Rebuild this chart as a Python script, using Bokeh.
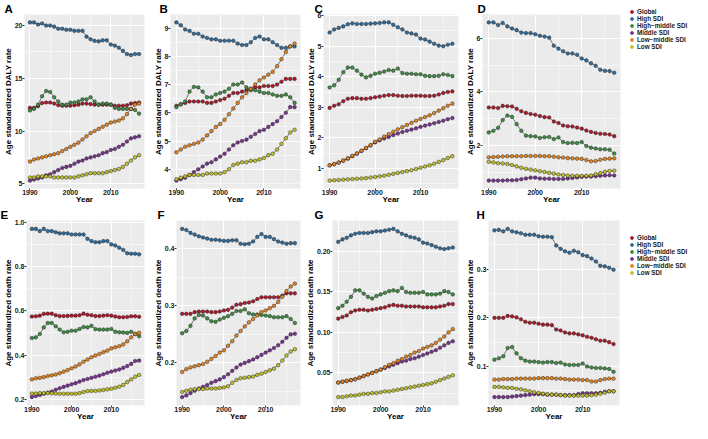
from bokeh.plotting import figure
from bokeh.layouts import row, column
from bokeh.models import Range1d, FixedTicker, Legend, LegendItem
from bokeh.embed import file_html
from bokeh.resources import INLINE

FONT = "Liberation Sans"

years = list(range(1990, 2018))
series_names = ["Global", "High SDI", "High\u2212middle SDI", "Middle SDI", "Low\u2212middle SDI", "Low SDI"]
colors = ["#B2182B", "#2F6D9E", "#3E8E41", "#7B3294", "#E6851E", "#C2C22A"]
x_ticks = [1990, 2000, 2010]
x_tick_labels = ["1990", "2000", "2010"]

a_global = [12.2,12.2,12.35,12.65,12.7,12.7,12.6,12.45,12.4,12.4,12.4,12.45,12.5,12.6,12.6,12.55,12.5,12.5,12.5,12.5,12.5,12.4,12.4,12.4,12.45,12.6,12.65,12.7]
a_high = [20.3,20.3,20.1,20.2,20.0,20.0,19.9,19.7,19.7,19.6,19.6,19.5,19.5,19.5,18.95,18.7,18.55,18.5,18.6,18.6,18.2,18.1,17.9,17.6,17.3,17.2,17.3,17.3]
a_highmid = [11.95,12.1,12.5,13.3,13.8,13.7,13.2,12.8,12.5,12.5,12.7,12.7,12.8,13.0,13.0,13.2,12.8,12.5,12.6,12.6,12.5,12.2,12.1,12.1,12.1,12.1,12.0,11.65]
a_mid = [5.3,5.4,5.5,5.6,5.8,5.9,6.1,6.3,6.5,6.6,6.7,6.9,7.1,7.2,7.4,7.5,7.6,7.7,7.9,8.0,8.2,8.3,8.5,8.7,9.0,9.3,9.4,9.5]
a_lowmid = [7.1,7.3,7.4,7.5,7.6,7.7,7.8,7.9,8.1,8.3,8.5,8.7,8.9,9.2,9.5,9.8,10.0,10.2,10.4,10.6,10.8,10.9,11.0,11.2,11.6,12.1,12.5,12.6]
a_low = [5.6,5.6,5.7,5.7,5.7,5.7,5.6,5.6,5.6,5.6,5.6,5.6,5.7,5.8,5.9,6.0,6.0,6.0,6.0,6.1,6.2,6.3,6.4,6.6,6.9,7.2,7.5,7.7]
a_ticks = [5, 10, 15, 20]
a_tick_labels = ["5", "10", "15", "20"]

b_global = [6.25,6.3,6.35,6.4,6.4,6.4,6.4,6.35,6.35,6.4,6.45,6.5,6.6,6.7,6.7,6.75,6.8,6.85,6.9,6.9,6.95,6.95,6.95,7.0,7.1,7.2,7.2,7.2]
b_high = [9.2,9.1,8.95,8.9,8.8,8.8,8.7,8.65,8.6,8.6,8.55,8.55,8.55,8.55,8.45,8.4,8.4,8.5,8.65,8.7,8.6,8.6,8.5,8.4,8.3,8.3,8.35,8.35]
b_highmid = [6.2,6.3,6.4,6.75,6.92,6.9,6.75,6.55,6.55,6.65,6.7,6.75,6.85,7.0,7.0,7.07,6.9,6.8,6.8,6.75,6.7,6.7,6.65,6.6,6.6,6.65,6.55,6.35]
b_mid = [3.6,3.65,3.7,3.8,3.9,4.0,4.1,4.2,4.25,4.35,4.45,4.55,4.7,4.85,4.95,5.0,5.05,5.15,5.25,5.35,5.4,5.5,5.6,5.7,5.85,6.0,6.2,6.2]
b_lowmid = [4.6,4.7,4.8,4.85,4.9,4.95,5.05,5.2,5.35,5.5,5.6,5.75,5.95,6.15,6.35,6.55,6.7,6.85,7.0,7.15,7.25,7.35,7.45,7.65,7.9,8.15,8.35,8.45]
b_low = [3.65,3.7,3.75,3.8,3.8,3.8,3.8,3.85,3.85,3.85,3.85,3.9,4.0,4.15,4.2,4.25,4.25,4.3,4.3,4.35,4.4,4.5,4.55,4.7,4.9,5.1,5.3,5.4]
b_ticks = [4, 5, 6, 7, 8, 9]
b_tick_labels = ["4", "5", "6", "7", "8", "9"]

c_global = [2.98,3.05,3.1,3.2,3.28,3.3,3.3,3.28,3.28,3.3,3.33,3.35,3.38,3.4,3.4,3.38,3.37,3.37,3.38,3.38,3.38,3.37,3.37,3.38,3.42,3.47,3.5,3.52]
c_high = [5.45,5.55,5.6,5.65,5.72,5.75,5.73,5.73,5.73,5.74,5.75,5.76,5.78,5.78,5.7,5.62,5.55,5.45,5.42,5.38,5.25,5.22,5.15,5.08,5.02,5.0,5.05,5.08]
c_highmid = [3.65,3.72,3.9,4.15,4.3,4.3,4.2,4.07,3.98,4.03,4.1,4.13,4.17,4.22,4.2,4.27,4.12,4.1,4.1,4.08,4.08,4.03,4.02,4.02,4.03,4.08,4.06,4.02]
c_mid = [1.1,1.14,1.19,1.25,1.32,1.4,1.48,1.57,1.66,1.75,1.85,1.92,1.98,2.03,2.09,2.14,2.19,2.23,2.27,2.31,2.36,2.4,2.44,2.48,2.52,2.56,2.61,2.65]
c_lowmid = [1.1,1.14,1.19,1.26,1.33,1.41,1.49,1.58,1.67,1.76,1.87,1.95,2.04,2.12,2.2,2.28,2.35,2.42,2.49,2.56,2.62,2.68,2.74,2.81,2.89,2.97,3.05,3.12]
c_low = [0.6,0.61,0.62,0.63,0.64,0.65,0.66,0.67,0.68,0.7,0.72,0.74,0.76,0.79,0.82,0.85,0.88,0.91,0.94,0.98,1.02,1.06,1.1,1.15,1.21,1.27,1.34,1.4]
c_ticks = [1, 2, 3, 4, 5, 6]
c_tick_labels = ["1", "2", "3", "4", "5", "6"]

d_global = [3.42,3.42,3.4,3.48,3.47,3.46,3.37,3.28,3.22,3.18,3.15,3.1,3.06,3.05,2.9,2.84,2.75,2.72,2.71,2.67,2.63,2.56,2.51,2.47,2.44,2.43,2.41,2.35]
d_high = [6.6,6.6,6.5,6.58,6.45,6.37,6.31,6.22,6.2,6.2,6.16,6.1,6.07,6.03,5.73,5.62,5.52,5.44,5.44,5.39,5.25,5.18,5.07,4.98,4.83,4.79,4.78,4.72]
d_highmid = [2.49,2.55,2.66,2.95,3.12,3.07,2.8,2.55,2.37,2.35,2.34,2.28,2.31,2.32,2.24,2.3,2.13,2.09,2.1,2.09,2.13,1.98,1.92,1.89,1.86,1.86,1.84,1.7]
d_mid = [0.69,0.69,0.69,0.69,0.7,0.7,0.71,0.74,0.77,0.8,0.8,0.77,0.76,0.76,0.75,0.75,0.75,0.77,0.79,0.81,0.83,0.84,0.84,0.85,0.87,0.88,0.89,0.88]
d_lowmid = [1.56,1.57,1.58,1.59,1.6,1.6,1.6,1.6,1.61,1.61,1.61,1.61,1.6,1.6,1.58,1.56,1.55,1.53,1.52,1.51,1.5,1.46,1.41,1.42,1.47,1.5,1.51,1.52]
d_low = [1.39,1.37,1.34,1.33,1.31,1.27,1.22,1.17,1.13,1.1,1.07,1.04,1.01,0.98,0.95,0.92,0.9,0.88,0.87,0.87,0.87,0.87,0.88,0.93,0.97,1.02,1.05,1.06]
d_ticks = [2, 4, 6]
d_tick_labels = ["2", "4", "6"]

e_global = [0.574,0.575,0.578,0.586,0.587,0.587,0.58,0.576,0.576,0.577,0.578,0.578,0.58,0.587,0.582,0.58,0.576,0.576,0.578,0.58,0.578,0.574,0.571,0.571,0.572,0.575,0.575,0.573]
e_high = [0.97,0.97,0.96,0.97,0.96,0.96,0.955,0.95,0.95,0.95,0.945,0.945,0.945,0.945,0.925,0.915,0.91,0.91,0.915,0.915,0.9,0.895,0.885,0.875,0.86,0.858,0.858,0.855]
e_highmid = [0.477,0.48,0.495,0.525,0.545,0.545,0.53,0.515,0.503,0.505,0.51,0.51,0.518,0.527,0.525,0.532,0.517,0.515,0.515,0.515,0.518,0.505,0.503,0.502,0.5,0.505,0.495,0.485]
e_mid = [0.21,0.215,0.22,0.225,0.23,0.235,0.243,0.25,0.256,0.262,0.268,0.273,0.28,0.287,0.292,0.297,0.302,0.307,0.313,0.32,0.325,0.33,0.335,0.342,0.35,0.36,0.373,0.375]
e_lowmid = [0.29,0.295,0.297,0.3,0.305,0.308,0.312,0.318,0.325,0.332,0.34,0.348,0.358,0.37,0.38,0.39,0.398,0.405,0.413,0.42,0.43,0.435,0.44,0.448,0.462,0.48,0.495,0.5]
e_low = [0.226,0.226,0.228,0.228,0.228,0.227,0.226,0.225,0.225,0.225,0.225,0.225,0.228,0.233,0.237,0.238,0.238,0.24,0.242,0.245,0.248,0.252,0.257,0.265,0.278,0.29,0.302,0.31]
e_ticks = [0.2, 0.4, 0.6, 0.8, 1.0]
e_tick_labels = ["0.2", "0.4", "0.6", "0.8", "1.0"]

f_global = [0.286,0.286,0.286,0.289,0.29,0.29,0.29,0.289,0.289,0.29,0.292,0.293,0.297,0.302,0.303,0.305,0.306,0.308,0.312,0.315,0.315,0.315,0.315,0.315,0.318,0.322,0.322,0.322]
f_high = [0.435,0.433,0.428,0.425,0.422,0.42,0.418,0.416,0.416,0.415,0.414,0.414,0.415,0.415,0.409,0.408,0.409,0.413,0.421,0.426,0.421,0.421,0.417,0.413,0.411,0.409,0.41,0.41]
f_highmid = [0.252,0.256,0.265,0.278,0.284,0.283,0.278,0.273,0.272,0.276,0.279,0.282,0.286,0.291,0.291,0.294,0.287,0.285,0.285,0.284,0.283,0.282,0.28,0.28,0.28,0.282,0.277,0.27]
f_mid = [0.14,0.143,0.147,0.151,0.155,0.158,0.161,0.165,0.168,0.171,0.175,0.18,0.186,0.192,0.197,0.2,0.203,0.206,0.21,0.214,0.218,0.222,0.226,0.231,0.237,0.244,0.25,0.251]
f_lowmid = [0.184,0.189,0.192,0.194,0.196,0.198,0.202,0.207,0.212,0.218,0.222,0.23,0.238,0.248,0.256,0.264,0.271,0.277,0.283,0.289,0.292,0.296,0.3,0.307,0.316,0.326,0.334,0.339]
f_low = [0.149,0.151,0.153,0.154,0.154,0.154,0.155,0.155,0.155,0.156,0.157,0.159,0.165,0.17,0.173,0.174,0.175,0.176,0.179,0.181,0.184,0.187,0.19,0.196,0.204,0.213,0.22,0.224]
f_ticks = [0.2, 0.3, 0.4]
f_tick_labels = ["0.2", "0.3", "0.4"]

g_global = [0.117,0.119,0.121,0.125,0.127,0.128,0.128,0.127,0.128,0.129,0.13,0.131,0.133,0.134,0.133,0.133,0.132,0.132,0.132,0.132,0.131,0.131,0.131,0.131,0.132,0.133,0.135,0.135]
g_high = [0.212,0.215,0.217,0.22,0.222,0.223,0.223,0.223,0.224,0.225,0.225,0.226,0.227,0.228,0.225,0.222,0.22,0.218,0.217,0.215,0.211,0.21,0.208,0.206,0.204,0.203,0.204,0.205]
g_highmid = [0.13,0.133,0.138,0.144,0.152,0.152,0.148,0.144,0.142,0.145,0.147,0.149,0.151,0.152,0.151,0.155,0.15,0.149,0.149,0.149,0.15,0.147,0.147,0.147,0.148,0.151,0.15,0.147]
g_mid = [0.038,0.039,0.04,0.041,0.042,0.044,0.046,0.048,0.05,0.052,0.054,0.056,0.058,0.06,0.062,0.064,0.065,0.067,0.068,0.07,0.072,0.074,0.076,0.078,0.081,0.084,0.087,0.089]
g_lowmid = [0.038,0.039,0.04,0.041,0.042,0.044,0.046,0.048,0.05,0.052,0.054,0.057,0.06,0.062,0.065,0.067,0.07,0.072,0.075,0.077,0.08,0.082,0.084,0.087,0.091,0.095,0.1,0.104]
g_low = [0.02,0.02,0.021,0.022,0.022,0.023,0.024,0.024,0.025,0.025,0.026,0.027,0.027,0.028,0.029,0.03,0.031,0.032,0.033,0.034,0.035,0.036,0.037,0.039,0.041,0.043,0.045,0.047]
g_ticks = [0.05, 0.10, 0.15, 0.20]
g_tick_labels = ["0.05", "0.10", "0.15", "0.20"]

h_global = [0.2,0.2,0.2,0.204,0.203,0.201,0.197,0.192,0.19,0.19,0.188,0.186,0.186,0.185,0.176,0.174,0.17,0.168,0.168,0.166,0.164,0.161,0.159,0.156,0.153,0.153,0.15,0.146]
h_high = [0.38,0.381,0.378,0.383,0.378,0.376,0.374,0.371,0.371,0.371,0.368,0.367,0.367,0.366,0.349,0.342,0.337,0.334,0.338,0.335,0.329,0.327,0.322,0.316,0.307,0.306,0.303,0.299]
h_highmid = [0.114,0.117,0.121,0.138,0.14,0.127,0.117,0.112,0.11,0.11,0.109,0.108,0.109,0.109,0.107,0.108,0.104,0.103,0.103,0.103,0.106,0.1,0.098,0.097,0.097,0.096,0.095,0.089]
h_mid = [0.037,0.037,0.037,0.037,0.038,0.039,0.04,0.041,0.042,0.043,0.043,0.043,0.042,0.042,0.042,0.041,0.041,0.041,0.041,0.043,0.045,0.045,0.045,0.045,0.046,0.048,0.049,0.049]
h_lowmid = [0.073,0.073,0.074,0.074,0.074,0.075,0.075,0.075,0.075,0.075,0.076,0.076,0.076,0.076,0.075,0.075,0.074,0.073,0.073,0.073,0.072,0.072,0.069,0.069,0.072,0.074,0.075,0.075]
h_low = [0.058,0.058,0.057,0.056,0.056,0.054,0.053,0.051,0.049,0.047,0.046,0.044,0.043,0.042,0.042,0.041,0.04,0.04,0.04,0.04,0.04,0.04,0.041,0.042,0.044,0.046,0.049,0.049]
h_ticks = [0.1, 0.2, 0.3]
h_tick_labels = ["0.1", "0.2", "0.3"]

daly_label = "Age standardized DALY rate"
death_label = "Age standardized death rate"


def minor_of(ticks):
    step = ticks[1] - ticks[0]
    pts = [ticks[0] - step] + list(ticks) + [ticks[-1] + step]
    return [(pts[i] + pts[i + 1]) / 2 for i in range(len(pts) - 1)]


def panel(letter, ylabel, yticks, ylabels, series, w, h, bl, br, bt, bb, label_x):
    allv = [v for s in series for v in s]
    lo, hi = min(allv), max(allv)
    pad = (hi - lo) * 0.05
    xpad = (years[-1] - years[0]) * 0.05
    p = figure(width=w, height=h, output_backend="svg", toolbar_location=None,
               x_range=Range1d(years[0] - xpad, years[-1] + xpad),
               y_range=Range1d(lo - pad, hi + pad),
               min_border_left=bl, min_border_right=br, min_border_top=bt, min_border_bottom=bb,
               background_fill_color="#EBEBEB", border_fill_color="white",
               outline_line_color=None, title=letter)
    p.title.text_font = FONT
    p.title.text_font_size = "11.5px"
    p.title.text_font_style = "bold"
    p.title.text_color = "black"
    p.title.align = "left"
    p.title.standoff = 0
    p.title.text_line_height = 1.0
    p.title.offset = label_x - bl

    p.xaxis.ticker = FixedTicker(ticks=x_ticks, minor_ticks=minor_of(x_ticks))
    p.xaxis.major_label_overrides = dict(zip(x_ticks, x_tick_labels))
    p.yaxis.ticker = FixedTicker(ticks=yticks, minor_ticks=minor_of(yticks))
    p.yaxis.major_label_overrides = dict(zip(yticks, ylabels))
    p.xaxis.axis_label = "Year"
    p.yaxis.axis_label = ylabel
    for ax in (p.xaxis, p.yaxis):
        ax.axis_line_color = None
        ax.major_tick_line_color = "#333333"
        ax.major_tick_out = 2
        ax.major_tick_in = 0
        ax.minor_tick_out = 0
        ax.minor_tick_in = 0
        ax.major_label_text_font = FONT
        ax.major_label_text_font_size = "7px"
        ax.major_label_text_font_style = "bold"
        ax.major_label_text_color = "#1a1a1a"
        ax.major_label_text_line_height = 1.0
        ax.axis_label_text_font = FONT
        ax.axis_label_text_font_size = "8px"
        ax.axis_label_text_font_style = "bold"
        ax.axis_label_text_color = "black"
        ax.axis_label_text_line_height = 1.0
    p.xaxis.major_label_standoff = -1
    p.xaxis.axis_label_standoff = -3
    p.yaxis.major_label_standoff = 0
    p.yaxis.axis_label_standoff = -1
    for g in (p.xgrid, p.ygrid):
        g.grid_line_color = "white"
        g.grid_line_width = 1
        g.minor_grid_line_color = "white"
        g.minor_grid_line_width = 0.5

    for vals in series:
        p.line(years, vals, line_color="#2a2a2a", line_width=0.6)
    for vals, col in zip(series, colors):
        p.scatter(years, vals, size=3.6, fill_color=col,
                  line_color="#1a1a1a", line_width=0.45)
    return p


def legend_panel(h, top, series):
    # series lie outside this panel's visible range; only their legend keys show
    p = figure(width=70, height=h, output_backend="svg", toolbar_location=None,
               x_range=Range1d(0, 1), y_range=Range1d(0, 1),
               x_axis_location=None, y_axis_location=None,
               min_border_left=0, min_border_right=0, min_border_top=top, min_border_bottom=0,
               outline_line_color=None, background_fill_color="white", border_fill_color="white")
    p.grid.visible = False
    rends = [p.scatter(years, vals, size=3, fill_color=c, line_color=c)
             for vals, c in zip(series, colors)]
    items = [LegendItem(label=n, renderers=[r]) for n, r in zip(series_names, rends)]
    leg = Legend(items=items, location="top_left",
                 label_text_font=FONT, label_text_font_size="6.3px",
                 label_text_font_style="bold", label_text_color="#1a1a1a",
                 label_text_line_height=1.0,
                 glyph_height=7, glyph_width=7, label_height=6, spacing=0,
                 padding=0, margin=6, label_standoff=2,
                 border_line_color=None, background_fill_alpha=0)
    p.add_layout(leg)
    return p


TOP_H, BOT_H = 206, 217
pA = panel("A", daly_label, a_ticks, a_tick_labels,
           [a_global, a_high, a_highmid, a_mid, a_lowmid, a_low], 150, TOP_H, 20, 6, 12, 10, 0)
pB = panel("B", daly_label, b_ticks, b_tick_labels,
           [b_global, b_high, b_highmid, b_mid, b_lowmid, b_low], 152, TOP_H, 17, 2, 12, 10, 6)
pC = panel("C", daly_label, c_ticks, c_tick_labels,
           [c_global, c_high, c_highmid, c_mid, c_lowmid, c_low], 160, TOP_H, 21, 4, 12, 10, 12)
pD = panel("D", daly_label, d_ticks, d_tick_labels,
           [d_global, d_high, d_highmid, d_mid, d_lowmid, d_low], 160, TOP_H, 18, 2, 12, 10, 13)
pE = panel("E", death_label, e_ticks, e_tick_labels,
           [e_global, e_high, e_highmid, e_mid, e_lowmid, e_low], 150, BOT_H, 26, 6, 13, 10, 0)
pF = panel("F", death_label, f_ticks, f_tick_labels,
           [f_global, f_high, f_highmid, f_mid, f_lowmid, f_low], 152, BOT_H, 25, 2, 13, 10, 6)
pG = panel("G", death_label, g_ticks, g_tick_labels,
           [g_global, g_high, g_highmid, g_mid, g_lowmid, g_low], 160, BOT_H, 30, 4, 13, 10, 12)
pH = panel("H", death_label, h_ticks, h_tick_labels,
           [h_global, h_high, h_highmid, h_mid, h_lowmid, h_low], 160, BOT_H, 25, 3, 13, 10, 13)
legTop = legend_panel(TOP_H, 2, [d_global, d_high, d_highmid, d_mid, d_lowmid, d_low])
legBottom = legend_panel(BOT_H, 22, [h_global, h_high, h_highmid, h_mid, h_lowmid, h_low])

panels = column(row(pA, pB, pC, pD), row(pE, pF, pG, pH))
layout = row(panels, column(legTop, legBottom))
open("out.html", "w").write(file_html(layout, INLINE))
